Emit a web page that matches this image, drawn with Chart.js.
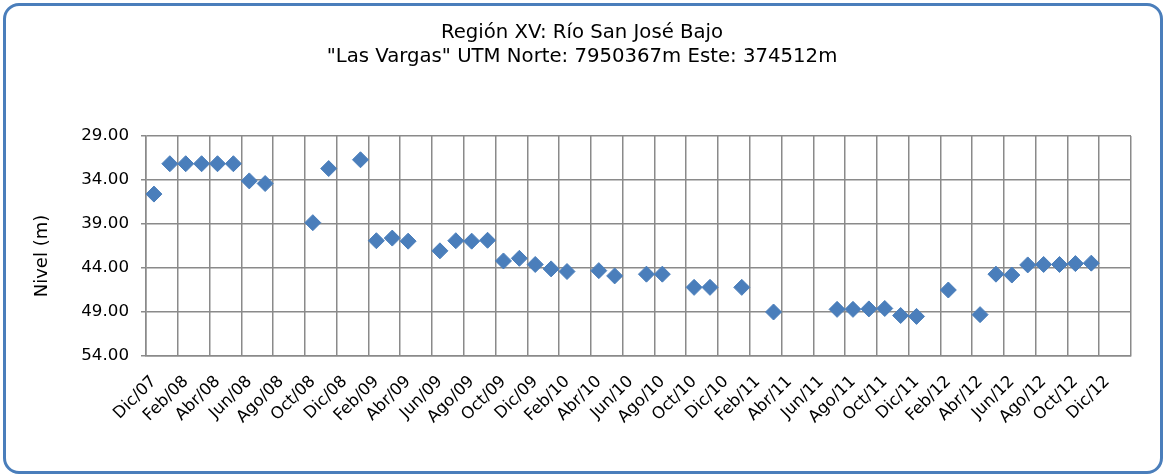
<!DOCTYPE html>
<html>
<head>
<meta charset="utf-8">
<title>Nivel Río San José Bajo</title>
<script src="https://cdn.jsdelivr.net/npm/chart.js@4"></script>
<style>
  html, body { margin: 0; padding: 0; background: #fff; }
  #frame {
    position: absolute; left: 3px; top: 3px; width: 1160px; height: 471px;
    box-sizing: border-box; border: 3.5px solid #4A7EBB; border-radius: 16px;
  }
  #wrap { position: absolute; left: 0; top: 0; width: 1164px; height: 476px; }
</style>
</head>
<body>
<div id="frame"></div>
<div id="wrap"><canvas id="chartCanvas" width="1164" height="476"></canvas></div>
<script>
// one slot per month, Dic/07 .. Ene/13
const months = [
    'Dic/07', 'Ene/08', 'Feb/08', 'Mar/08', 'Abr/08', 'May/08', 'Jun/08', 'Jul/08', 'Ago/08', 'Sep/08', 'Oct/08', 'Nov/08',
    'Dic/08', 'Ene/09', 'Feb/09', 'Mar/09', 'Abr/09', 'May/09', 'Jun/09', 'Jul/09', 'Ago/09', 'Sep/09', 'Oct/09', 'Nov/09',
    'Dic/09', 'Ene/10', 'Feb/10', 'Mar/10', 'Abr/10', 'May/10', 'Jun/10', 'Jul/10', 'Ago/10', 'Sep/10', 'Oct/10', 'Nov/10',
    'Dic/10', 'Ene/11', 'Feb/11', 'Mar/11', 'Abr/11', 'May/11', 'Jun/11', 'Jul/11', 'Ago/11', 'Sep/11', 'Oct/11', 'Nov/11',
    'Dic/11', 'Ene/12', 'Feb/12', 'Mar/12', 'Abr/12', 'May/12', 'Jun/12', 'Jul/12', 'Ago/12', 'Sep/12', 'Oct/12', 'Nov/12',
    'Dic/12', 'Ene/13'
];

// nivel (m), null = sin medición
const nivel = [
    35.6, 32.15, 32.15, 32.15, 32.15, 32.15, 34.1, 34.4, null, null, 38.85, 32.7,
    null, 31.7, 40.9, 40.6, 40.95, null, 42.05, 40.9, 40.95, 40.85, 43.2, 42.9,
    43.6, 44.1, 44.4, null, 44.3, 44.9, null, 44.7, 44.7, null, 46.2, 46.2,
    null, 46.2, null, 49.0, null, null, null, 48.7, 48.7, 48.65, 48.6, 49.4,
    49.5, null, 46.5, null, 49.3, 44.7, 44.8, 43.65, 43.6, 43.6, 43.5, 43.45,
    null, null
];

const tickLabels = [
    'Dic/07', 'Feb/08', 'Abr/08', 'Jun/08', 'Ago/08', 'Oct/08', 'Dic/08', 'Feb/09', 'Abr/09', 'Jun/09', 'Ago/09',
    'Oct/09', 'Dic/09', 'Feb/10', 'Abr/10', 'Jun/10', 'Ago/10', 'Oct/10', 'Dic/10', 'Feb/11', 'Abr/11', 'Jun/11',
    'Ago/11', 'Oct/11', 'Dic/11', 'Feb/12', 'Abr/12', 'Jun/12', 'Ago/12', 'Oct/12', 'Dic/12'
];

const yTicks = [29, 34, 39, 44, 49, 54];

const titleLines = ['Región XV: Río San José Bajo', '"Las Vargas" UTM Norte: 7950367m Este: 374512m'];
const yTitle = 'Nivel (m)';

// each month is a bucket, point sits in its middle
const points = [];
nivel.forEach((v, i) => {
    if (v !== null) points.push({ x: i + 0.5, y: v });
});

const fontFamily = "'DejaVu Sans', Verdana, sans-serif";
const gridColor = '#8a8a8a';
const blue = '#4A7EBB';

// vertical axis title, drawn by hand so it can sit a bit below the plot middle
const yTitlePlugin = {
    id: 'yTitle',
    afterDraw(chart) {
        const c = chart.ctx;
        const area = chart.chartArea;
        c.save();
        c.translate(42, (area.top + area.bottom) / 2 + 10);
        c.rotate(-Math.PI / 2);
        c.font = '18px ' + fontFamily;
        c.fillStyle = '#000';
        c.textAlign = 'center';
        c.textBaseline = 'middle';
        c.fillText(yTitle, 0, 0);
        c.restore();
    }
};

const ctx = document.getElementById('chartCanvas');
new Chart(ctx, {
    type: 'scatter',
    data: {
        datasets: [{
            label: 'Nivel',
            data: points,
            pointStyle: 'rectRot',
            pointRadius: 8,
            pointBackgroundColor: blue,
            pointBorderColor: blue,
            pointBorderWidth: 1,
            showLine: false
        }]
    },
    options: {
        responsive: false,
        animation: false,
        layout: {
            padding: { left: 33, right: 33, top: 0, bottom: 0 }
        },
        scales: {
            x: {
                type: 'linear',
                min: 0,
                max: months.length,
                afterBuildTicks: (scale) => {
                    scale.ticks = tickLabels.map((_, i) => ({ value: i * 2 })).concat([{ value: months.length }]);
                },
                afterFit: (scale) => { scale.height = 120; },
                ticks: {
                    autoSkip: false,
                    maxRotation: 45,
                    minRotation: 45,
                    padding: 16,
                    labelOffset: 8,
                    color: '#000',
                    font: { family: fontFamily, size: 16.5 },
                    callback: (v) => tickLabels[v / 2] || ''
                },
                grid: { color: gridColor, lineWidth: 1.5, drawTicks: false },
                border: { color: gridColor, width: 1.5 }
            },
            y: {
                type: 'linear',
                reverse: true,
                min: yTicks[0],
                max: yTicks[yTicks.length - 1],
                afterBuildTicks: (scale) => {
                    scale.ticks = yTicks.map(v => ({ value: v }));
                },
                afterFit: (scale) => { scale.width = 113; },
                ticks: {
                    padding: 12,
                    color: '#000',
                    font: { family: fontFamily, size: 16.7 },
                    callback: (v) => v.toFixed(2)
                },
                grid: { color: gridColor, lineWidth: 1.5, tickLength: 5 },
                border: { color: gridColor, width: 1.5 }
            }
        },
        plugins: {
            legend: { display: false },
            tooltip: { enabled: false },
            title: {
                display: true,
                text: titleLines,
                color: '#000',
                font: { family: fontFamily, size: 19.7, weight: 'normal', lineHeight: 24 / 19.7 },
                padding: { top: 21, bottom: 67 }
            }
        }
    },
    plugins: [yTitlePlugin]
});
</script>
</body>
</html>
